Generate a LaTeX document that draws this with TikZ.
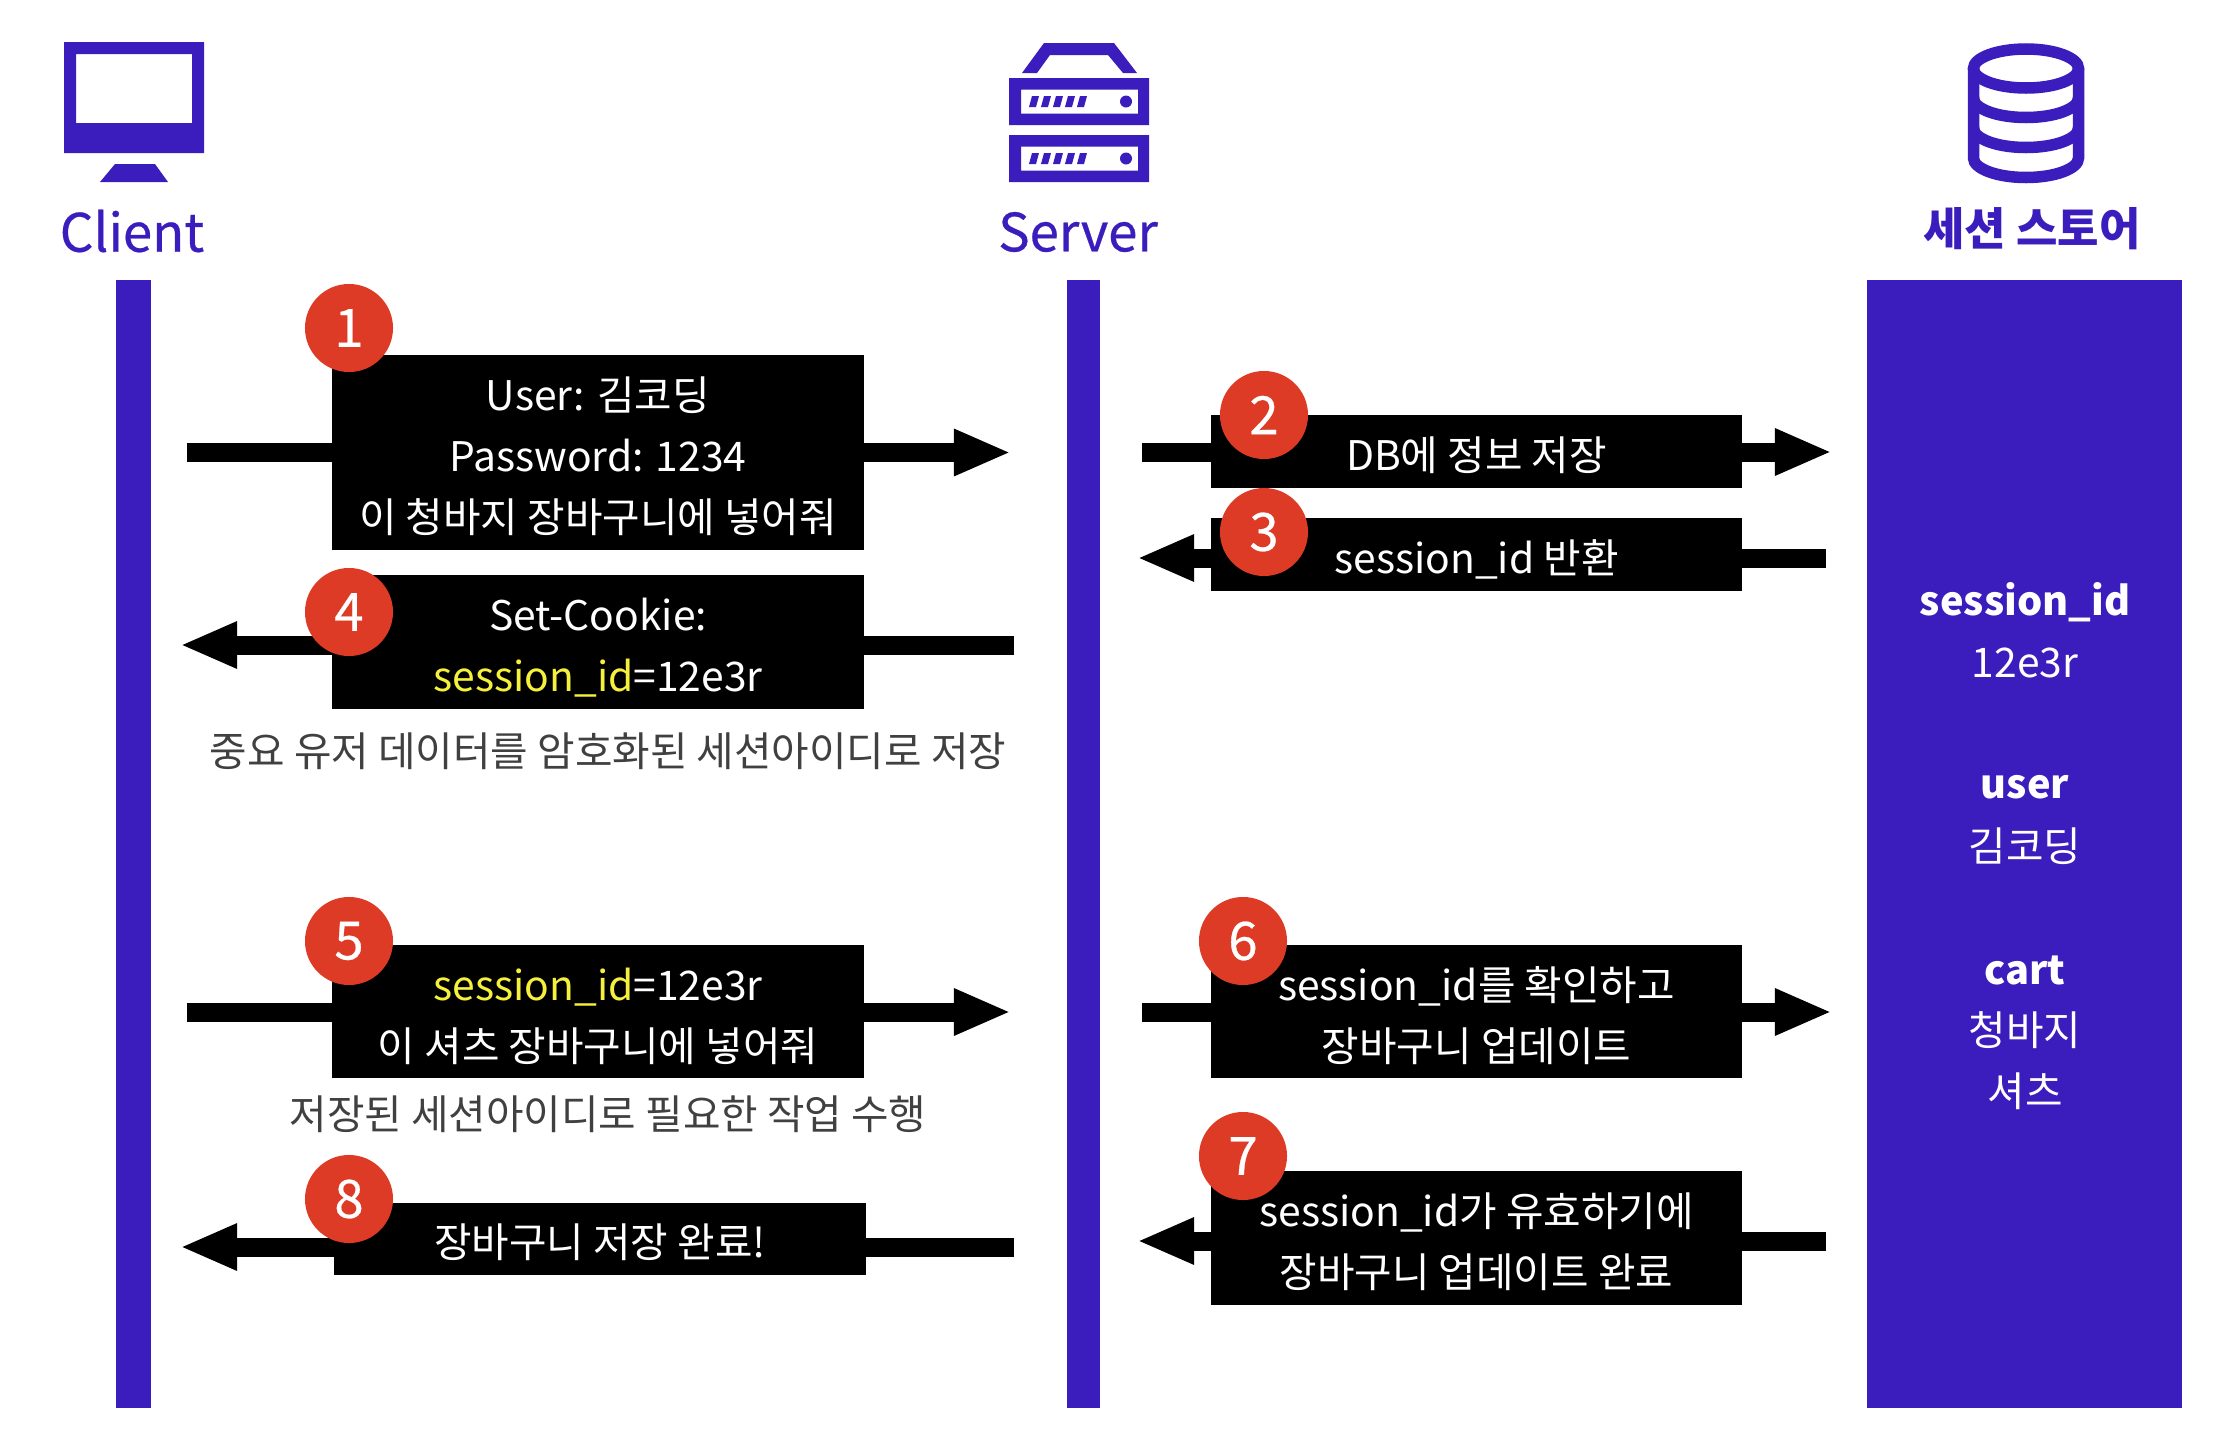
\documentclass[tikz,border=0pt]{standalone}
\usepackage{fontspec}
\setmainfont{Noto Sans CJK KR}
\newfontfamily\titlefont[FakeBold=0.5]{Noto Sans CJK KR}
\usetikzlibrary{arrows.meta}
\definecolor{barblue}{HTML}{3A1DBC}
\definecolor{stepred}{HTML}{DE3B26}
\definecolor{idyellow}{HTML}{F5F03C}
\definecolor{notegray}{HTML}{404040}
\newcommand{\toprow}{\rule{0pt}{14pt}}
\tikzset{
    msgbox/.style={fill=black, text=white, minimum width=5.31cm, inner sep=0pt, outer sep=0pt, align=center, font=\fontsize{11.6}{17.36}\selectfont,
        execute at begin node={\rule{0pt}{13.6pt}}, execute at end node={\rule[-3pt]{0pt}{3pt}}},
    tallmsg/.style={msgbox, execute at begin node={}},
    flowline/.style={line width=0.19cm},
    flowarrow/.style={line width=0.19cm, -{Triangle[length=0.57cm, width=0.43cm]}},
    stepdot/.style={circle, fill=stepred, text=white, minimum size=0.88cm, inner sep=0pt, font=\fontsize{15}{15}\titlefont},
    title/.style={text=barblue, font=\fontsize{15}{15}\titlefont},
    note/.style={text=notegray, font=\fontsize{11.6}{14}\selectfont},
    storetext/.style={text=white, font=\fontsize{11.6}{14}\selectfont},
    storekey/.style={text=white, font=\fontsize{11.3}{14}\selectfont\bfseries}
}
\begin{document}
\begin{tikzpicture}[x=0.01cm, y=-0.01cm]
    \useasboundingbox (0,0) rectangle (2232,1454);

    % Client icon
    \fill[barblue, even odd rule] (64,42) rectangle (204,153) (76,54) rectangle (192,123);
    \fill[barblue] (115,164) -- (155,164) -- (168,182) -- (100,182) -- cycle;
    \node[title] (client) at (132,231) {Client};

    % Server icon
    \fill[barblue, even odd rule] (1044,43) -- (1114,43) -- (1137,73) -- (1123,73) -- (1108,55) -- (1050,55) -- (1037,73) -- (1022,73) -- cycle;
    \foreach \y in {78,135} {
        \fill[barblue, even odd rule] (1009,\y) rectangle (1149,\y+47) (1021,\y+11.5) rectangle (1138,\y+35.5);
        \fill[barblue] (1126,\y+23.5) ellipse (6 and 6);
        \foreach \x in {1029,1041,1053,1065,1077}
            \fill[barblue] (\x,\y+29) -- (\x+3,\y+18) -- (\x+10,\y+18) -- (\x+7,\y+29) -- cycle;
    }
    \node[title] (server) at (1078,232) {Server};

    % Session store icon
    \draw[barblue, line width=0.115cm] (2026,68.5) ellipse (52.5 and 19.5);
    \draw[barblue, line width=0.115cm] (1973.5,68.5) -- (1973.5,158) arc[x radius=52.5, y radius=19.5, start angle=180, end angle=0] -- (2078.5,68.5);
    \draw[barblue, line width=0.115cm] (1973.5,98) arc[x radius=52.5, y radius=19.5, start angle=180, end angle=0];
    \draw[barblue, line width=0.115cm] (1973.5,128) arc[x radius=52.5, y radius=19.5, start angle=180, end angle=0];
    \node[title, font=\fontsize{12.8}{12.8}\selectfont\bfseries] (store) at (2032,229) {세션 스토어};

    % Lifelines
    \fill[barblue] (116,280) rectangle (151,1408);
    \fill[barblue] (1067,280) rectangle (1100,1408);
    \fill[barblue] (1867,280) rectangle (2182,1408);

    % Session store contents
    \node[storekey] (keyid) at (2025,602) {session\_id};
    \node[storetext] (valid) at (2025,663) {12e3r};
    \node[storekey] (keyuser) at (2025,787) {user};
    \node[storetext] (valuser) at (2025,846) {김코딩};
    \node[storekey] (keycart) at (2025,970) {cart};
    \node[storetext] (valcarta) at (2025,1030) {청바지};
    \node[storetext] (valcartb) at (2025,1091) {셔츠};

    % Message 1
    \coordinate (from1) at (187,452.5);
    \coordinate (to1) at (1011,452.5);
    \node[tallmsg, minimum height=1.95cm] (msg1) at (598,452.5) {\toprow User: 김코딩\\Password: 1234\\이 청바지 장바구니에 넣어줘};
    \draw[flowline] (from1) -- (from1 -| msg1.west);
    \draw[flowarrow] (to1 -| msg1.east) -- (to1);

    % Message 2
    \coordinate (from2) at (1142,452);
    \coordinate (to2) at (1832,452);
    \node[msgbox, minimum height=0.73cm] (msg2) at (1476.5,451.5) {DB에 정보 저장};
    \draw[flowline] (from2) -- (from2 -| msg2.west);
    \draw[flowarrow] (to2 -| msg2.east) -- (to2);

    % Message 3
    \coordinate (from3) at (1826,558);
    \coordinate (to3) at (1137,558);
    \node[msgbox, minimum height=0.73cm] (msg3) at (1476.5,554.5) {session\_id 반환};
    \draw[flowline] (from3) -- (from3 -| msg3.east);
    \draw[flowarrow] (to3 -| msg3.west) -- (to3);

    % Message 4
    \coordinate (from4) at (1014,645);
    \coordinate (to4) at (180,645);
    \node[tallmsg, minimum height=1.34cm] (msg4) at (598,642) {\toprow Set-Cookie:\\\textcolor{idyellow}{session\_id}=12e3r};
    \draw[flowline] (from4) -- (from4 -| msg4.east);
    \draw[flowarrow] (to4 -| msg4.west) -- (to4);
    \node[note] (note4) at (608,751) {중요 유저 데이터를 암호화된 세션아이디로 저장};

    % Message 5
    \coordinate (from5) at (187,1012);
    \coordinate (to5) at (1011,1012);
    \node[tallmsg, minimum height=1.33cm] (msg5) at (598,1011.5) {\toprow\textcolor{idyellow}{session\_id}=12e3r\\이 셔츠 장바구니에 넣어줘};
    \draw[flowline] (from5) -- (from5 -| msg5.west);
    \draw[flowarrow] (to5 -| msg5.east) -- (to5);
    \node[note] (note5) at (608,1114) {저장된 세션아이디로 필요한 작업 수행};

    % Message 6
    \coordinate (from6) at (1142,1012);
    \coordinate (to6) at (1832,1012);
    \node[tallmsg, minimum height=1.33cm] (msg6) at (1476.5,1011.5) {\toprow session\_id를 확인하고\\장바구니 업데이트};
    \draw[flowline] (from6) -- (from6 -| msg6.west);
    \draw[flowarrow] (to6 -| msg6.east) -- (to6);

    % Message 7
    \coordinate (from7) at (1826,1241);
    \coordinate (to7) at (1137,1241);
    \node[tallmsg, minimum height=1.34cm] (msg7) at (1476.5,1238) {\toprow session\_id가 유효하기에\\장바구니 업데이트 완료};
    \draw[flowline] (from7) -- (from7 -| msg7.east);
    \draw[flowarrow] (to7 -| msg7.west) -- (to7);

    % Message 8
    \coordinate (from8) at (1014,1247);
    \coordinate (to8) at (180,1247);
    \node[msgbox, minimum height=0.72cm] (msg8) at (600,1239) {장바구니 저장 완료!};
    \draw[flowline] (from8) -- (from8 -| msg8.east);
    \draw[flowarrow] (to8 -| msg8.west) -- (to8);

    % Step numbers
    \node[stepdot] (step1) at (349,328) {1};
    \node[stepdot] (step2) at (1264,415) {2};
    \node[stepdot] (step3) at (1264,532) {3};
    \node[stepdot] (step4) at (349,612) {4};
    \node[stepdot] (step5) at (349,941) {5};
    \node[stepdot] (step6) at (1243,941) {6};
    \node[stepdot] (step7) at (1243,1156) {7};
    \node[stepdot] (step8) at (349,1199) {8};
\end{tikzpicture}
\end{document}
